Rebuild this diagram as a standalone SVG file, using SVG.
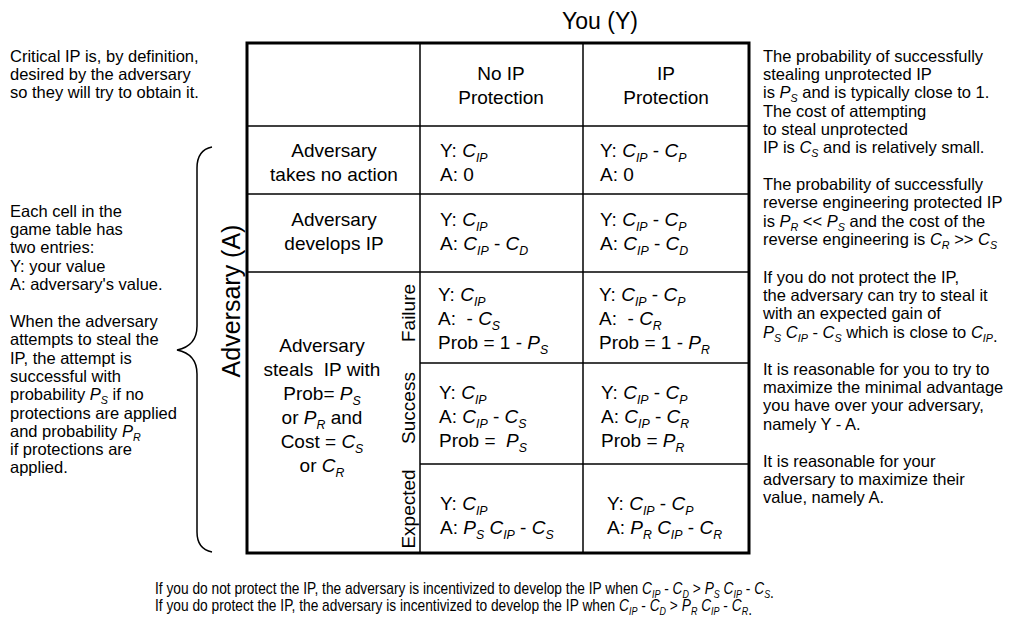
<svg xmlns="http://www.w3.org/2000/svg" width="1013" height="619" viewBox="0 0 1013 619">
<style>
text{font-family:"Liberation Sans",Arial,Helvetica,sans-serif;fill:#000}
.side{font-size:16.5px}
.cell{font-size:19px}
.big{font-size:23px}
.big2{font-size:25px}
.bot{font-size:16px}
.i{font-style:italic}
.sb{font-style:italic;font-size:0.65em}
.grid{stroke:#000;stroke-width:1.5;fill:none}
.outer{stroke:#000;stroke-width:3;fill:none}
.brace{stroke:#000;stroke-width:1.5;fill:none}
</style>
<rect width="1013" height="619" fill="#fff"/>

<g id="left-notes">
<text class="side" x="10" y="62">Critical IP is, by definition,</text>
<text class="side" x="10" y="80">desired by the adversary</text>
<text class="side" x="10" y="98">so they will try to obtain it.</text>
<text class="side" x="10" y="217">Each cell in the</text>
<text class="side" x="10" y="235">game table has</text>
<text class="side" x="10" y="253">two entries:</text>
<text class="side" x="10" y="272">Y: your value</text>
<text class="side" x="10" y="290">A: adversary's value.</text>
<text class="side" x="10" y="327">When the adversary</text>
<text class="side" x="10" y="345">attempts to steal the</text>
<text class="side" x="10" y="364">IP, the attempt is</text>
<text class="side" x="10" y="382">successful with</text>
<text class="side" x="10" y="400">probability <tspan class="i">P</tspan><tspan class="sb" dy="4">S</tspan><tspan dy="-4"> if no</tspan></text>
<text class="side" x="10" y="419">protections are applied</text>
<text class="side" x="10" y="437">and probability <tspan class="i">P</tspan><tspan class="sb" dy="4">R</tspan></text>
<text class="side" x="10" y="455">if protections are</text>
<text class="side" x="10" y="473">applied.</text>
</g>

<g id="brace">
<path class="brace" d="M212,147 Q197,150 197,168 L197,326 Q197,346 177,350 Q197,354 197,374 L197,532 Q197,549 212,552"/>
</g>

<g id="axis-labels">
<text class="big" x="600" y="29" text-anchor="middle">You (Y)</text>
<text class="big2" transform="translate(240,301) rotate(-90)" text-anchor="middle">Adversary (A)</text>
</g>

<g id="table-grid">
<rect class="outer" x="247" y="43" width="502" height="510"/>
<line class="grid" x1="420" y1="43" x2="420" y2="553"/>
<line class="grid" x1="583" y1="43" x2="583" y2="553"/>
<line class="grid" x1="247" y1="126" x2="749" y2="126"/>
<line class="grid" x1="247" y1="194" x2="749" y2="194"/>
<line class="grid" x1="247" y1="272" x2="749" y2="272"/>
<line class="grid" x1="420" y1="363" x2="749" y2="363"/>
<line class="grid" x1="420" y1="464" x2="749" y2="464"/>
</g>

<g id="header-no-protection">
<text class="cell" x="501" y="80" text-anchor="middle">No IP</text>
<text class="cell" x="501" y="104" text-anchor="middle">Protection</text>
</g>
<g id="header-protection">
<text class="cell" x="666" y="80" text-anchor="middle">IP</text>
<text class="cell" x="666" y="104" text-anchor="middle">Protection</text>
</g>

<g id="row-no-action">
<text class="cell" x="334" y="157" text-anchor="middle">Adversary</text>
<text class="cell" x="334" y="181" text-anchor="middle">takes no action</text>
</g>
<g id="cell-no-action-noprot">
<text class="cell" x="440" y="157">Y: <tspan class="i">C</tspan><tspan class="sb" dy="5">IP</tspan></text>
<text class="cell" x="440" y="181">A: 0</text>
</g>
<g id="cell-no-action-prot">
<text class="cell" x="600" y="157">Y: <tspan class="i">C</tspan><tspan class="sb" dy="5">IP</tspan><tspan dy="-5"> - </tspan><tspan class="i">C</tspan><tspan class="sb" dy="5">P</tspan></text>
<text class="cell" x="600" y="181">A: 0</text>
</g>

<g id="row-develops">
<text class="cell" x="334" y="226" text-anchor="middle">Adversary</text>
<text class="cell" x="334" y="250" text-anchor="middle">develops IP</text>
</g>
<g id="cell-develops-noprot">
<text class="cell" x="440" y="226">Y: <tspan class="i">C</tspan><tspan class="sb" dy="5">IP</tspan></text>
<text class="cell" x="440" y="250">A: <tspan class="i">C</tspan><tspan class="sb" dy="5">IP</tspan><tspan dy="-5"> - </tspan><tspan class="i">C</tspan><tspan class="sb" dy="5">D</tspan></text>
</g>
<g id="cell-develops-prot">
<text class="cell" x="600" y="226">Y: <tspan class="i">C</tspan><tspan class="sb" dy="5">IP</tspan><tspan dy="-5"> - </tspan><tspan class="i">C</tspan><tspan class="sb" dy="5">P</tspan></text>
<text class="cell" x="600" y="250">A: <tspan class="i">C</tspan><tspan class="sb" dy="5">IP</tspan><tspan dy="-5"> - </tspan><tspan class="i">C</tspan><tspan class="sb" dy="5">D</tspan></text>
</g>

<g id="row-steals">
<text class="cell" x="322" y="352" text-anchor="middle">Adversary</text>
<text class="cell" x="322" y="376" text-anchor="middle" xml:space="preserve">steals  IP with</text>
<text class="cell" x="322" y="400" text-anchor="middle">Prob= <tspan class="i">P</tspan><tspan class="sb" dy="5">S</tspan></text>
<text class="cell" x="322" y="424" text-anchor="middle">or <tspan class="i">P</tspan><tspan class="sb" dy="5">R</tspan><tspan dy="-5"> and</tspan></text>
<text class="cell" x="322" y="448" text-anchor="middle">Cost = <tspan class="i">C</tspan><tspan class="sb" dy="5">S</tspan></text>
<text class="cell" x="322" y="472" text-anchor="middle">or <tspan class="i">C</tspan><tspan class="sb" dy="5">R</tspan></text>
</g>

<g id="outcome-labels">
<text class="cell" transform="translate(415,313) rotate(-90)" text-anchor="middle">Failure</text>
<text class="cell" transform="translate(415,408) rotate(-90)" text-anchor="middle">Success</text>
<text class="cell" transform="translate(415,509) rotate(-90)" text-anchor="middle">Expected</text>
</g>

<g id="cell-failure-noprot">
<text class="cell" x="438" y="301">Y: <tspan class="i">C</tspan><tspan class="sb" dy="5">IP</tspan></text>
<text class="cell" x="438" y="325" xml:space="preserve">A:  - <tspan class="i">C</tspan><tspan class="sb" dy="5">S</tspan></text>
<text class="cell" x="438" y="349">Prob = 1 - <tspan class="i">P</tspan><tspan class="sb" dy="5">S</tspan></text>
</g>
<g id="cell-failure-prot">
<text class="cell" x="599" y="301">Y: <tspan class="i">C</tspan><tspan class="sb" dy="5">IP</tspan><tspan dy="-5"> - </tspan><tspan class="i">C</tspan><tspan class="sb" dy="5">P</tspan></text>
<text class="cell" x="599" y="325" xml:space="preserve">A:  - <tspan class="i">C</tspan><tspan class="sb" dy="5">R</tspan></text>
<text class="cell" x="599" y="349">Prob = 1 - <tspan class="i">P</tspan><tspan class="sb" dy="5">R</tspan></text>
</g>

<g id="cell-success-noprot">
<text class="cell" x="439" y="399">Y: <tspan class="i">C</tspan><tspan class="sb" dy="5">IP</tspan></text>
<text class="cell" x="439" y="423">A: <tspan class="i">C</tspan><tspan class="sb" dy="5">IP</tspan><tspan dy="-5"> - </tspan><tspan class="i">C</tspan><tspan class="sb" dy="5">S</tspan></text>
<text class="cell" x="439" y="447" xml:space="preserve">Prob =  <tspan class="i">P</tspan><tspan class="sb" dy="5">S</tspan></text>
</g>
<g id="cell-success-prot">
<text class="cell" x="601" y="399">Y: <tspan class="i">C</tspan><tspan class="sb" dy="5">IP</tspan><tspan dy="-5"> - </tspan><tspan class="i">C</tspan><tspan class="sb" dy="5">P</tspan></text>
<text class="cell" x="601" y="423">A: <tspan class="i">C</tspan><tspan class="sb" dy="5">IP</tspan><tspan dy="-5"> - </tspan><tspan class="i">C</tspan><tspan class="sb" dy="5">R</tspan></text>
<text class="cell" x="601" y="447">Prob = <tspan class="i">P</tspan><tspan class="sb" dy="5">R</tspan></text>
</g>

<g id="cell-expected-noprot">
<text class="cell" x="440" y="510">Y: <tspan class="i">C</tspan><tspan class="sb" dy="5">IP</tspan></text>
<text class="cell" x="440" y="534">A: <tspan class="i">P</tspan><tspan class="sb" dy="5">S</tspan><tspan dy="-5"> </tspan><tspan class="i">C</tspan><tspan class="sb" dy="5">IP</tspan><tspan dy="-5"> - </tspan><tspan class="i">C</tspan><tspan class="sb" dy="5">S</tspan></text>
</g>
<g id="cell-expected-prot">
<text class="cell" x="607" y="510">Y: <tspan class="i">C</tspan><tspan class="sb" dy="5">IP</tspan><tspan dy="-5"> - </tspan><tspan class="i">C</tspan><tspan class="sb" dy="5">P</tspan></text>
<text class="cell" x="607" y="534">A: <tspan class="i">P</tspan><tspan class="sb" dy="5">R</tspan><tspan dy="-5"> </tspan><tspan class="i">C</tspan><tspan class="sb" dy="5">IP</tspan><tspan dy="-5"> - </tspan><tspan class="i">C</tspan><tspan class="sb" dy="5">R</tspan></text>
</g>

<g id="right-notes">
<text class="side" x="763" y="62">The probability of successfully</text>
<text class="side" x="763" y="80">stealing unprotected IP</text>
<text class="side" x="763" y="98">is <tspan class="i">P</tspan><tspan class="sb" dy="4">S</tspan><tspan dy="-4"> and is typically close to 1.</tspan></text>
<text class="side" x="763" y="117">The cost of attempting</text>
<text class="side" x="763" y="135">to steal unprotected</text>
<text class="side" x="763" y="153">IP is <tspan class="i">C</tspan><tspan class="sb" dy="4">S</tspan><tspan dy="-4"> and is relatively small.</tspan></text>
<text class="side" x="763" y="190">The probability of successfully</text>
<text class="side" x="763" y="208">reverse engineering protected IP</text>
<text class="side" x="763" y="227">is <tspan class="i">P</tspan><tspan class="sb" dy="4">R</tspan><tspan dy="-4"> &lt;&lt; </tspan><tspan class="i">P</tspan><tspan class="sb" dy="4">S</tspan><tspan dy="-4"> and the cost of the</tspan></text>
<text class="side" x="763" y="245">reverse engineering is <tspan class="i">C</tspan><tspan class="sb" dy="4">R</tspan><tspan dy="-4"> &gt;&gt; </tspan><tspan class="i">C</tspan><tspan class="sb" dy="4">S</tspan></text>
<text class="side" x="763" y="283">If you do not protect the IP,</text>
<text class="side" x="763" y="301">the adversary can try to steal it</text>
<text class="side" x="763" y="319">with an expected gain of</text>
<text class="side" x="763" y="338"><tspan class="i">P</tspan><tspan class="sb" dy="4">S</tspan><tspan dy="-4"> </tspan><tspan class="i">C</tspan><tspan class="sb" dy="4">IP</tspan><tspan dy="-4"> - </tspan><tspan class="i">C</tspan><tspan class="sb" dy="4">S</tspan><tspan dy="-4"> which is close to </tspan><tspan class="i">C</tspan><tspan class="sb" dy="4">IP</tspan><tspan>.</tspan></text>
<text class="side" x="763" y="375">It is reasonable for you to try to</text>
<text class="side" x="763" y="393">maximize the minimal advantage</text>
<text class="side" x="763" y="411">you have over your adversary,</text>
<text class="side" x="763" y="430">namely Y - A.</text>
<text class="side" x="763" y="467">It is reasonable for your</text>
<text class="side" x="763" y="485">adversary to maximize their</text>
<text class="side" x="763" y="503">value, namely A.</text>
</g>

<g id="bottom-notes" transform="translate(155,0) scale(0.86,1)">
<text class="bot" x="0" y="594">If you do not protect the IP, the adversary is incentivized to develop the IP when <tspan class="i">C</tspan><tspan class="sb" dy="4">IP</tspan><tspan dy="-4"> - </tspan><tspan class="i">C</tspan><tspan class="sb" dy="4">D</tspan><tspan dy="-4"> &gt; </tspan><tspan class="i">P</tspan><tspan class="sb" dy="4">S</tspan><tspan dy="-4"> </tspan><tspan class="i">C</tspan><tspan class="sb" dy="4">IP</tspan><tspan dy="-4"> - </tspan><tspan class="i">C</tspan><tspan class="sb" dy="4">S</tspan><tspan>.</tspan></text>
<text class="bot" x="0" y="611">If you do protect the IP, the adversary is incentivized to develop the IP when <tspan class="i">C</tspan><tspan class="sb" dy="4">IP</tspan><tspan dy="-4"> - </tspan><tspan class="i">C</tspan><tspan class="sb" dy="4">D</tspan><tspan dy="-4"> &gt; </tspan><tspan class="i">P</tspan><tspan class="sb" dy="4">R</tspan><tspan dy="-4"> </tspan><tspan class="i">C</tspan><tspan class="sb" dy="4">IP</tspan><tspan dy="-4"> - </tspan><tspan class="i">C</tspan><tspan class="sb" dy="4">R</tspan><tspan>.</tspan></text>
</g>
</svg>
